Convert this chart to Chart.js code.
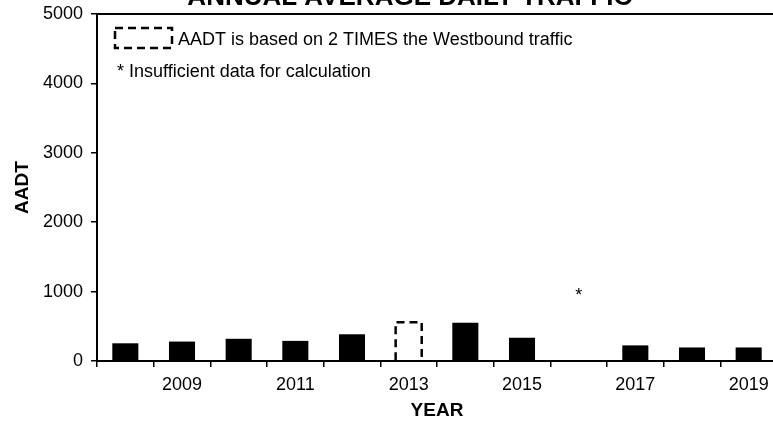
<!DOCTYPE html>
<html><head><meta charset="utf-8">
<script src="https://cdn.jsdelivr.net/npm/chart.js@4.4.1/dist/chart.umd.min.js"></script>
<style>
html,body{margin:0;padding:0;background:#fff;overflow:hidden;width:773px;height:427px}
#wrap{position:absolute;left:0;top:0;width:777px;height:427px}
</style></head><body>
<div id="wrap"><canvas id="c"></canvas></div>
<script>
const chartTitle = 'ANNUAL AVERAGE DAILY TRAFFIC';
const years = ['2008','2009','2010','2011','2012','2013','2014','2015','2016','2017','2018','2019'];
const aadt = [255, 280, 320, 290, 385, null, 550, 335, null, 225, 195, 195];
const aadtDoubledWestbound = [null, null, null, null, null, 560, null, null, null, null, null, null];
const insufficientData = [null, null, null, null, null, null, null, null, 1000, null, null, null];
const yTicks = [0, 1000, 2000, 3000, 4000, 5000];
const legendNotes = ['AADT is based on 2 TIMES the Westbound traffic', '* Insufficient data for calculation'];
const xTitle = 'YEAR';
const yTitle = 'AADT';

const FONT = "'Liberation Sans', Arial, sans-serif";
Chart.defaults.font.family = FONT;
Chart.defaults.color = '#000';

const overlay = {
  id: 'overlay',
  afterDatasetsDraw(chart) {
    const {ctx, chartArea: a, scales: {x, y}} = chart;
    ctx.save();
    ctx.strokeStyle = '#000';
    ctx.fillStyle = '#000';
    // dashed outline bars (AADT from 2 x westbound)
    const meta = chart.getDatasetMeta(1);
    meta.data.forEach((el, i) => {
      if (aadtDoubledWestbound[i] == null) return;
      const p = el.getProps(['x', 'y', 'base', 'width'], true);
      const l = p.x - p.width / 2, r = p.x + p.width / 2;
      ctx.beginPath();
      ctx.setLineDash([8, 5]);
      ctx.lineWidth = 2.5;
      ctx.moveTo(l, p.base); ctx.lineTo(l, p.y); ctx.lineTo(r, p.y); ctx.lineTo(r, p.base);
      ctx.stroke();
    });
    // insufficient-data markers
    ctx.setLineDash([]);
    ctx.font = '18px ' + FONT;
    ctx.textAlign = 'center';
    ctx.textBaseline = 'middle';
    insufficientData.forEach((v, i) => {
      if (v == null) return;
      ctx.fillText('*', x.getPixelForValue(i), y.getPixelForValue(v) + 4);
    });
    // plot frame (top / right)
    ctx.lineWidth = 2;
    ctx.beginPath();
    ctx.moveTo(a.left, a.top); ctx.lineTo(a.right, a.top); ctx.lineTo(a.right, a.bottom);
    ctx.stroke();
    // title, partly cut off at the top edge
    ctx.font = 'bold 26px ' + FONT;
    ctx.textBaseline = 'alphabetic';
    ctx.fillText(chartTitle, a.left + a.width * 0.46, a.top - 9);
    // notes / legend
    ctx.beginPath();
    ctx.setLineDash([8, 5]);
    ctx.lineWidth = 2.5;
    ctx.strokeRect(a.left + 18, a.top + 14, 57, 20);
    ctx.setLineDash([]);
    ctx.font = '18px ' + FONT;
    ctx.textAlign = 'left';
    ctx.textBaseline = 'middle';
    ctx.fillText(legendNotes[0], a.left + 81, a.top + 26);
    ctx.fillText(legendNotes[1], a.left + 20, a.top + 58);
    ctx.restore();
  }
};

new Chart(document.getElementById('c'), {
  type: 'bar',
  data: {
    labels: years,
    datasets: [
      {label: 'AADT', data: aadt, backgroundColor: '#000', borderWidth: 0,
       barPercentage: 0.46, categoryPercentage: 1, grouped: false},
      {label: 'AADT (2 x Westbound)', data: aadtDoubledWestbound, backgroundColor: 'rgba(0,0,0,0)', borderWidth: 0,
       barPercentage: 0.46, categoryPercentage: 1, grouped: false}
    ]
  },
  options: {
    responsive: true, maintainAspectRatio: false, animation: false,
    layout: {padding: {top: 14, right: 0, left: 0, bottom: 0}},
    plugins: {legend: {display: false}, title: {display: false}, tooltip: {enabled: false}},
    scales: {
      x: {
        offset: true,
        grid: {offset: true, drawOnChartArea: false, drawTicks: true, tickLength: 6, color: '#000', lineWidth: 1.5},
        border: {display: true, color: '#000', width: 2},
        ticks: {autoSkip: false, maxRotation: 0, color: '#000', font: {size: 18}, padding: 7,
                callback: (v, i) => (parseInt(years[i], 10) % 2 === 1 ? years[i] : '')},
        title: {display: true, text: xTitle, color: '#000', font: {size: 19, weight: 'bold'}, padding: {top: 0, bottom: 5}},
        afterFit(s) { s.height = 66; s.paddingLeft = 0; s.paddingRight = 0; }
      },
      y: {
        min: 0, max: 5000,
        afterBuildTicks(s) { s.ticks = yTicks.map(v => ({value: v})); },
        grid: {drawOnChartArea: false, drawTicks: true, tickLength: 6, color: '#000', lineWidth: 1.5},
        border: {display: true, color: '#000', width: 2},
        ticks: {color: '#000', font: {size: 18}, padding: 8, callback: (v) => String(v)},
        title: {display: true, text: yTitle, color: '#000', font: {size: 19, weight: 'bold'}, padding: {top: 11, bottom: 0}},
        afterFit(s) { s.width = 97; s.paddingTop = 0; s.paddingBottom = 0; }
      }
    }
  },
  plugins: [overlay]
});
</script>
</body></html>
